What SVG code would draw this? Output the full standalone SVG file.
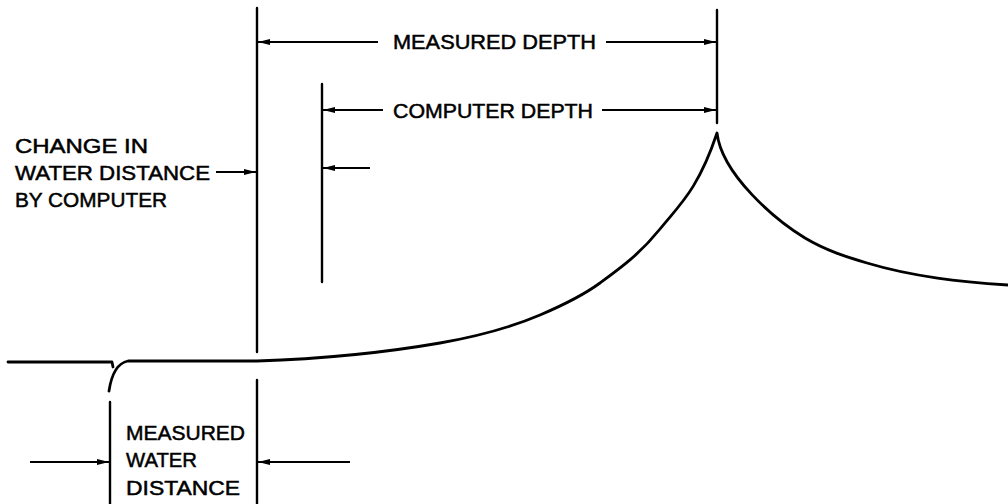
<svg xmlns="http://www.w3.org/2000/svg" width="1008" height="504" viewBox="0 0 1008 504">
<defs>
<marker id="ah" viewBox="0 0 12 8" refX="12" refY="4" markerWidth="12" markerHeight="8" markerUnits="userSpaceOnUse" orient="auto">
<path d="M0,1 L12,4 L0,7 Z" fill="#000"/>
</marker>
</defs>
<style>
.ln{stroke:#000;stroke-width:2.4;fill:none;stroke-linecap:round}
.ar{stroke:#000;stroke-width:2;fill:none;marker-end:url(#ah)}
.cv{stroke:#000;stroke-width:2.8;fill:none;stroke-linecap:round;stroke-linejoin:round}
text{font-family:"Liberation Sans",Arial,sans-serif;font-size:20.5px;fill:#000;stroke:#000;stroke-width:0.5}
</style>
<rect width="1008" height="504" fill="#fff"/>
<g id="profile">
<path class="cv" d="M8,362 L112,362 L113,367"/>
<path class="cv" d="M109,391 Q113,364 128,361 L257,361 C318,359 379,353.6 440,343 C473.3,337.2 506.7,329.2 540,315 C560,306.5 580,297.6 600,283 C620,268.4 640,254 660,229 C679,205.3 698,190 717,133 C722,175 776,220.4 805,238 C825.7,250.4 846.3,256.8 867,263 C914,277.1 961,281.7 1008,285"/>
</g>
<g id="connectors">
<line class="ln" x1="257" y1="8" x2="257" y2="352"/>
<line class="ln" x1="257" y1="380" x2="257" y2="504"/>
<line class="ln" x1="110" y1="402" x2="110" y2="504"/>
<line class="ln" x1="322" y1="84" x2="322" y2="282"/>
<line class="ln" x1="717" y1="10" x2="717" y2="123"/>
<line class="ar" x1="378" y1="42" x2="258" y2="42"/>
<line class="ar" x1="606" y1="42" x2="716" y2="42"/>
<line class="ar" x1="383" y1="110" x2="323" y2="110"/>
<line class="ar" x1="602" y1="110" x2="716" y2="110"/>
<line class="ar" x1="370" y1="168" x2="323" y2="168"/>
<line class="ar" x1="216" y1="172" x2="256" y2="172"/>
<line class="ar" x1="30" y1="462" x2="109" y2="462"/>
<line class="ar" x1="350" y1="462" x2="258" y2="462"/>
</g>
<g id="measured-depth"><text x="393" y="49" textLength="203" lengthAdjust="spacingAndGlyphs">MEASURED DEPTH</text></g>
<g id="computer-depth"><text x="393" y="118" textLength="200" lengthAdjust="spacingAndGlyphs">COMPUTER DEPTH</text></g>
<g id="change-label">
<text x="15" y="153" textLength="133" lengthAdjust="spacingAndGlyphs">CHANGE IN</text>
<text x="15" y="180" textLength="195" lengthAdjust="spacingAndGlyphs">WATER DISTANCE</text>
<text x="15" y="207" textLength="152" lengthAdjust="spacingAndGlyphs">BY COMPUTER</text>
</g>
<g id="water-distance-label">
<text x="126" y="440" textLength="119" lengthAdjust="spacingAndGlyphs">MEASURED</text>
<text x="126" y="467" textLength="71" lengthAdjust="spacingAndGlyphs">WATER</text>
<text x="126" y="495" textLength="114" lengthAdjust="spacingAndGlyphs">DISTANCE</text>
</g>
</svg>
